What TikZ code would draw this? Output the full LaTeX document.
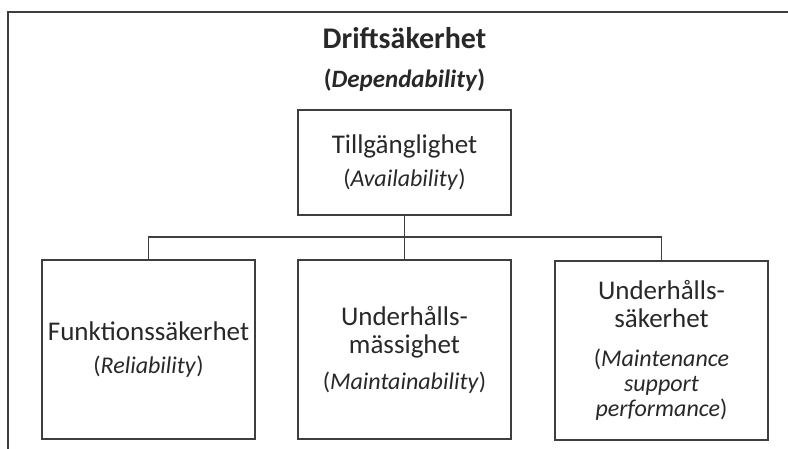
\documentclass[tikz,border=0pt]{standalone}
\usepackage{fontspec}
\setmainfont{Carlito}
\usepackage{tikz}
\usetikzlibrary{positioning}
\definecolor{lineGray}{RGB}{62,62,62}
\definecolor{textGray}{RGB}{40,40,40}
\newcommand{\engsize}{\fontsize{24}{28}\selectfont}

\begin{document}
\begin{tikzpicture}[x=1pt, y=-1pt]%
  \tikzset{dep box/.style={draw=lineGray, line width=1.5pt, minimum width=213pt, minimum height=179pt, inner sep=0pt, align=center, text=textGray, font=\fontsize{27}{28}\selectfont}}
  \tikzset{link/.style={draw=lineGray, line width=1.5pt}}

  \clip (0,0) rectangle (788,448);
  \draw[link] (8,12) rectangle (820,480);

  \node[text=textGray, anchor=base, font=\fontsize{30}{32}\selectfont\bfseries] (title) at (404.5,48) {Driftsäkerhet};
  \node[text=textGray, anchor=base, font=\fontsize{25}{28}\selectfont\bfseries] (titleEng) at (404.5,87) {(\textit{Dependability})};

  \node[dep box, minimum height=105pt] (avail) at (404.5,162.5) {Tillgänglighet\\[5pt]{\engsize(\textit{Availability})}};
  \node[dep box] (rel) at (148.5,349.5) {Funktionssäkerhet\\[5pt]{\engsize(\textit{Reliability})}};
  \node[dep box] (maint) at (404.5,349.5) {Underhålls-\\mässighet\\[8pt]{\engsize(\textit{Maintainability})}};
  \node[dep box] (supp) at (661.5,350.5) {Underhålls-\\säkerhet\\[11pt]{\engsize(\textit{Maintenance}}\\[-3pt]{\engsize\textit{support}}\\[-3pt]{\engsize\textit{performance})}};

  \coordinate (bus) at (404.5,237);
  \path[link] (avail) -- (maint);
  \path[link] (rel.north) |- (bus) -| (supp.north);
\end{tikzpicture}
\end{document}
